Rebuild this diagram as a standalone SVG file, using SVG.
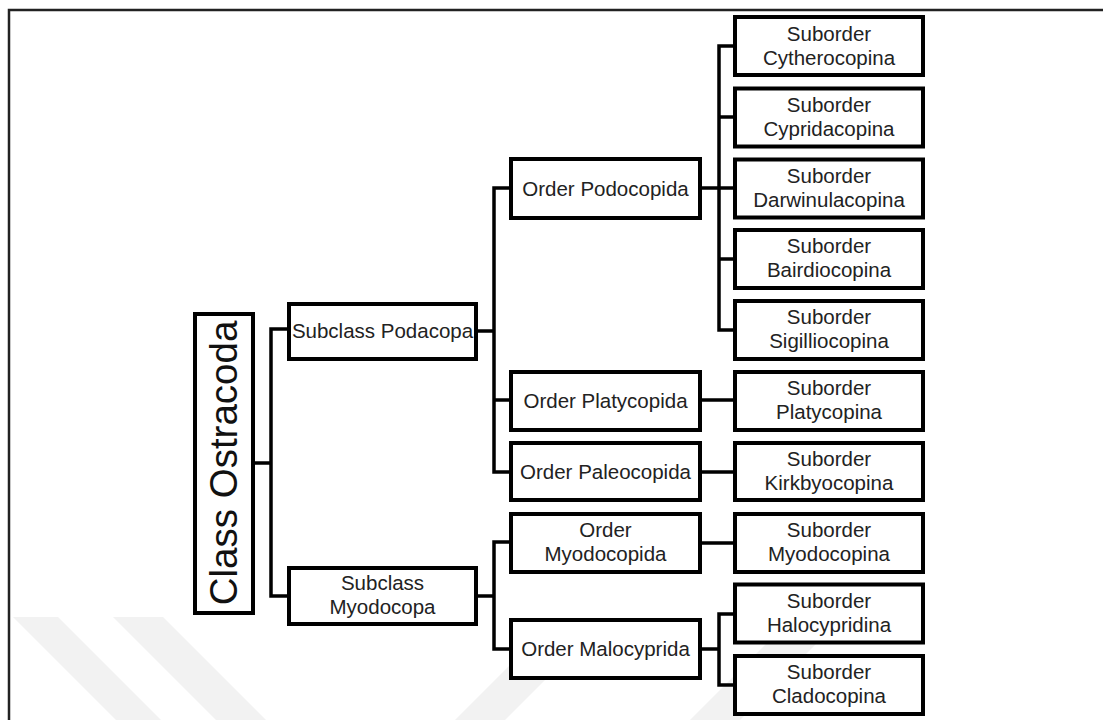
<svg xmlns="http://www.w3.org/2000/svg" width="1103" height="720" viewBox="0 0 1103 720">
<style>
.box{fill:#fff;stroke:#000;stroke-width:4}
.t{font-family:"Liberation Sans",Arial,sans-serif;font-size:20.5px;fill:#222;text-anchor:middle}
.big{font-family:"Liberation Sans",Arial,sans-serif;font-size:38.5px;fill:#111;text-anchor:middle}
.c{fill:none;stroke:#000;stroke-width:3.5;stroke-linejoin:miter;stroke-linecap:square}
.wm{fill:#f2f2f2}
</style>
<rect x="0" y="0" width="1103" height="720" fill="#fff"/>
<g id="watermark">
<polygon class="wm" points="13,617 58,617 161,720 116,720"/>
<polygon class="wm" points="113,617 163,617 266,720 216,720"/>
<polygon class="wm" points="455,720 505,720 600,625 550,625"/>
<polygon class="wm" points="690,720 740,720 835,625 785,625"/>
</g>
<path d="M9,720 V10 H1103" fill="none" stroke="#222" stroke-width="2.5"/>
<g id="connectors">
<path class="c" d="M253,463 H271 M271,329 V596 M271,329 H289 M271,596 H289"/>
<path class="c" d="M476,331 H494 M494,188 V472 M494,188 H511 M494,400 H511 M494,472 H511"/>
<path class="c" d="M476,596 H494 M494,542 V649 M494,542 H511 M494,649 H511"/>
<path class="c" d="M700,188 H719 M719,46 V330 M719,46 H735 M719,117 H735 M719,188 H735 M719,259 H735 M719,330 H735"/>
<path class="c" d="M700,400 H735 M700,472 H735 M700,543 H735"/>
<path class="c" d="M700,649 H719 M719,614 V685 M719,614 H735 M719,685 H735"/>
</g>
<g id="class-ostracoda"><rect class="box" x="195" y="314" width="58" height="299"/><text class="big" transform="translate(237,463) rotate(-90)">Class Ostracoda</text></g>
<g id="subclass-podacopa"><rect class="box" x="289" y="304" width="187" height="55"/><text class="t" x="382.5" y="338">Subclass Podacopa</text></g>
<g id="subclass-myodocopa"><rect class="box" x="289" y="568" width="187" height="56"/><text class="t" x="382.5" y="590">Subclass<tspan x="382.5" dy="24">Myodocopa</tspan></text></g>
<g id="order-podocopida"><rect class="box" x="511" y="159" width="189" height="59"/><text class="t" x="605.5" y="195.5">Order Podocopida</text></g>
<g id="order-platycopida"><rect class="box" x="511" y="372" width="189" height="58"/><text class="t" x="605.5" y="408">Order Platycopida</text></g>
<g id="order-paleocopida"><rect class="box" x="511" y="443" width="189" height="57"/><text class="t" x="605.5" y="479">Order Paleocopida</text></g>
<g id="order-myodocopida"><rect class="box" x="511" y="514" width="189" height="58"/><text class="t" x="605.5" y="537">Order<tspan x="605.5" dy="24">Myodocopida</tspan></text></g>
<g id="order-malocyprida"><rect class="box" x="511" y="620" width="189" height="58"/><text class="t" x="605.5" y="656">Order Malocyprida</text></g>
<g id="suborder-cytherocopina"><rect class="box" x="735" y="17" width="188" height="58"/><text class="t" x="829" y="40.5">Suborder<tspan x="829" dy="24">Cytherocopina</tspan></text></g>
<g id="suborder-cypridacopina"><rect class="box" x="735" y="88.5" width="188" height="58"/><text class="t" x="829" y="111.5">Suborder<tspan x="829" dy="24">Cypridacopina</tspan></text></g>
<g id="suborder-darwinulacopina"><rect class="box" x="735" y="159.5" width="188" height="58"/><text class="t" x="829" y="182.5">Suborder<tspan x="829" dy="24">Darwinulacopina</tspan></text></g>
<g id="suborder-bairdiocopina"><rect class="box" x="735" y="230" width="188" height="58"/><text class="t" x="829" y="253">Suborder<tspan x="829" dy="24">Bairdiocopina</tspan></text></g>
<g id="suborder-sigilliocopina"><rect class="box" x="735" y="301" width="188" height="58"/><text class="t" x="829" y="324">Suborder<tspan x="829" dy="24">Sigilliocopina</tspan></text></g>
<g id="suborder-platycopina"><rect class="box" x="735" y="372" width="188" height="58"/><text class="t" x="829" y="395">Suborder<tspan x="829" dy="24">Platycopina</tspan></text></g>
<g id="suborder-kirkbyocopina"><rect class="box" x="735" y="443" width="188" height="57"/><text class="t" x="829" y="466">Suborder<tspan x="829" dy="24">Kirkbyocopina</tspan></text></g>
<g id="suborder-myodocopina"><rect class="box" x="735" y="514" width="188" height="58"/><text class="t" x="829" y="537">Suborder<tspan x="829" dy="24">Myodocopina</tspan></text></g>
<g id="suborder-halocypridina"><rect class="box" x="735" y="584.5" width="188" height="58"/><text class="t" x="829" y="607.5">Suborder<tspan x="829" dy="24">Halocypridina</tspan></text></g>
<g id="suborder-cladocopina"><rect class="box" x="735" y="656" width="188" height="58"/><text class="t" x="829" y="679">Suborder<tspan x="829" dy="24">Cladocopina</tspan></text></g>
</svg>
